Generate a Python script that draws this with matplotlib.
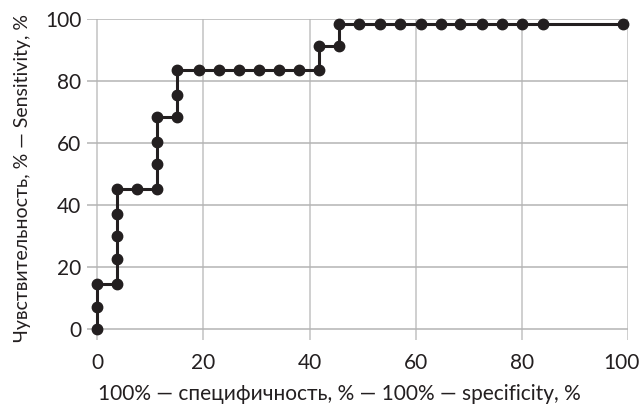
import matplotlib
matplotlib.use("Agg")
import matplotlib.pyplot as plt
from matplotlib.transforms import ScaledTranslation

# 100% - specificity (x) and sensitivity (y)
spec_x = [0, 0, 0, 3.7, 3.7, 3.7, 3.7, 3.7, 7.5, 11.3, 11.3, 11.3, 11.3,
          15.1, 15.1, 15.1, 19.1, 23.0, 26.7, 30.5, 34.3, 38.0, 41.8, 41.8,
          45.6, 45.6, 49.3, 53.3, 57.1, 60.9, 64.7, 68.4, 72.4, 76.3, 80.1,
          83.9, 99.0]
sens_y = [0, 7.3, 14.6, 14.6, 22.8, 30.1, 37.2, 45.4, 45.4, 45.4, 53.3,
          60.4, 68.4, 68.4, 75.5, 83.6, 83.6, 83.6, 83.6, 83.6, 83.6, 83.6,
          83.6, 91.4, 91.4, 98.4, 98.4, 98.4, 98.4, 98.4, 98.4, 98.4, 98.4,
          98.4, 98.4, 98.4, 98.4]
x_ticks = [0, 20, 40, 60, 80, 100]
y_ticks = [0, 20, 40, 60, 80, 100]
x_label = "100% — специфичность, % — 100% — specificity, %"
y_label = "Чувствительность, % — Sensitivity, %"

plt.rcParams['font.family'] = ['Lato', 'DejaVu Sans']

fig = plt.figure(figsize=(6.4, 4.05), dpi=100)
ax = fig.add_axes([0.1355, 0.160, 0.8458, 0.7922])

ax.plot(spec_x, sens_y, color='#231f20', lw=2.2, marker='o', ms=7.5,
        zorder=3, clip_on=False)

ax.set_xlim(-2, 100)
ax.set_ylim(-3.5, 100)
ax.set_xticks(x_ticks)
ax.set_yticks(y_ticks)
ax.grid(True, axis='x', color='#cccccc', lw=1.3)
ax.grid(True, axis='y', color='#b4b4b4', lw=1.1)
ax.set_axisbelow(True)
for s in ax.spines.values():
    s.set_visible(False)
ax.tick_params(length=0, labelsize=15, colors='#231f20')
ax.tick_params(axis='x', pad=9)
ax.tick_params(axis='y', pad=4)

# keep the last x tick label inside the figure
last = ax.get_xticklabels()[-1]
last.set_transform(last.get_transform() + ScaledTranslation(-7 / 100, 0, fig.dpi_scale_trans))

ax.set_xlabel(x_label, fontsize=15, color='#231f20')
ax.xaxis.set_label_coords(0.466, -0.168)
ax.xaxis.label.set_va('center')
ax.set_ylabel(y_label, fontsize=14, color='#231f20')
ax.yaxis.set_label_coords(-0.1195, 0.504)
ax.yaxis.label.set_va('center')

fig.savefig("out.png", dpi=100)
